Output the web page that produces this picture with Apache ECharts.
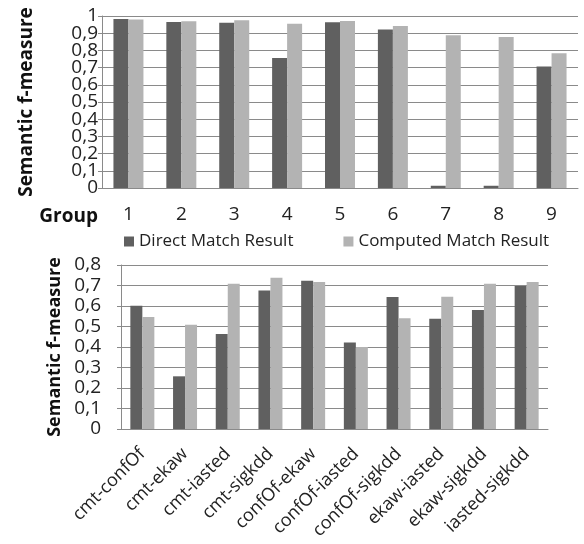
<!DOCTYPE html>
<html>
<head>
<meta charset="utf-8">
<script src="https://cdn.jsdelivr.net/npm/echarts@6/dist/echarts.min.js"></script>
<style>
  html, body { margin: 0; padding: 0; background: #fff; }
  #chart { width: 584px; height: 544px; }
</style>
</head>
<body>
<div id="chart"></div>
<script>
// top chart: groups
const groups = ['1', '2', '3', '4', '5', '6', '7', '8', '9']
const groupDirect = [0.983, 0.965, 0.961, 0.756, 0.963, 0.922, 0.013, 0.013, 0.707]
const groupComputed = [0.98, 0.969, 0.975, 0.955, 0.971, 0.942, 0.888, 0.878, 0.783]

// bottom chart: ontology pairs
const pairs = ['cmt-confOf', 'cmt-ekaw', 'cmt-iasted', 'cmt-sigkdd', 'confOf-ekaw',
    'confOf-iasted', 'confOf-sigkdd', 'ekaw-iasted', 'ekaw-sigkdd', 'iasted-sigkdd']
const pairDirect = [0.601, 0.257, 0.463, 0.676, 0.723, 0.422, 0.644, 0.538, 0.58, 0.698]
const pairComputed = [0.546, 0.509, 0.709, 0.738, 0.717, 0.4, 0.54, 0.645, 0.709, 0.717]

const fontFamily = 'Open Sans'
const darkColor = '#606060'
const lightColor = '#b3b3b3'
const lineColor = '#8a8a8a'
const comma = (v) => String(Math.round(v * 10) / 10).replace('.', ',')

const yAxisBase = {
    type: 'value',
    min: 0,
    interval: 0.1,
    nameLocation: 'middle',
    nameRotate: 90,
    axisLine: { show: true, lineStyle: { color: lineColor } },
    axisTick: { show: true, length: 4, lineStyle: { color: lineColor } },
    splitLine: { lineStyle: { color: lineColor } }
}

const xAxisBase = {
    type: 'category',
    axisLine: { lineStyle: { color: lineColor } },
    axisTick: { length: 5, lineStyle: { color: lineColor } }
}

const topLabel = { fontFamily, color: '#222', fontSize: 19, margin: 4 }

const option = {
    animation: false,
    color: [darkColor, lightColor],
    legend: {
        left: 119,
        top: 228,
        itemWidth: 10,
        itemHeight: 10,
        itemGap: 50,
        icon: 'rect',
        textStyle: { fontFamily, fontSize: 17, color: '#222' },
        data: ['Direct Match Result', 'Computed Match Result']
    },
    // x axis title of the top chart, sits left of the tick labels
    graphic: [{
        type: 'text',
        style: {
            text: 'Group', x: 98, y: 217, align: 'right', verticalAlign: 'middle',
            fontFamily, fontSize: 19, fontWeight: 'bold', fill: '#111'
        }
    }],
    grid: [
        { left: 102, right: 6, top: 16, height: 172 },
        { left: 121, right: 36, top: 265, height: 164 }
    ],
    xAxis: [
        Object.assign({}, xAxisBase, {
            gridIndex: 0,
            data: groups,
            axisLabel: { fontFamily, color: '#222', fontSize: 19, margin: 17 }
        }),
        Object.assign({}, xAxisBase, {
            gridIndex: 1,
            data: pairs,
            axisLabel: { fontFamily, color: '#222', fontSize: 18, rotate: 45, margin: 22, interval: 0 }
        })
    ],
    yAxis: [
        Object.assign({}, yAxisBase, {
            gridIndex: 0,
            max: 1,
            name: 'Semantic f-measure',
            nameGap: 66,
            nameTextStyle: { fontFamily, fontSize: 19, fontWeight: 'bold', color: '#111' },
            axisLabel: Object.assign({ formatter: (v) => (v <= 0 || v >= 1) ? '' : comma(v) }, topLabel)
        }),
        Object.assign({}, yAxisBase, {
            gridIndex: 1,
            max: 0.8,
            name: 'Semantic f-measure',
            nameGap: 56,
            nameTextStyle: { fontFamily, fontSize: 18, fontWeight: 'bold', color: '#111' },
            axisLabel: {
                formatter: comma, fontFamily, color: '#222', fontSize: 19, margin: 20
            }
        }),
        // same scale as the top axis, only carries the 0 and 1 labels that the crowded axis drops
        {
            type: 'value',
            gridIndex: 0,
            position: 'left',
            min: 0,
            max: 1,
            interval: 0.1,
            axisLine: { show: false },
            axisTick: { show: false },
            splitLine: { show: false },
            axisLabel: Object.assign({
                formatter: (v) => (v <= 0 || v >= 1) ? comma(v) : '',
                showMinLabel: true,
                showMaxLabel: true
            }, topLabel)
        }
    ],
    series: [
        { name: 'Direct Match Result', type: 'bar', xAxisIndex: 0, yAxisIndex: 0, barWidth: 15, barGap: 0, data: groupDirect },
        { name: 'Computed Match Result', type: 'bar', xAxisIndex: 0, yAxisIndex: 0, barWidth: 15, barGap: 0, data: groupComputed },
        { name: 'Direct Match Result', type: 'bar', xAxisIndex: 1, yAxisIndex: 1, barWidth: 12, barGap: 0, data: pairDirect },
        { name: 'Computed Match Result', type: 'bar', xAxisIndex: 1, yAxisIndex: 1, barWidth: 12, barGap: 0, data: pairComputed }
    ]
}

const chart = echarts.init(document.getElementById('chart'), null, { renderer: 'canvas' })
chart.setOption(option)
</script>
</body>
</html>
